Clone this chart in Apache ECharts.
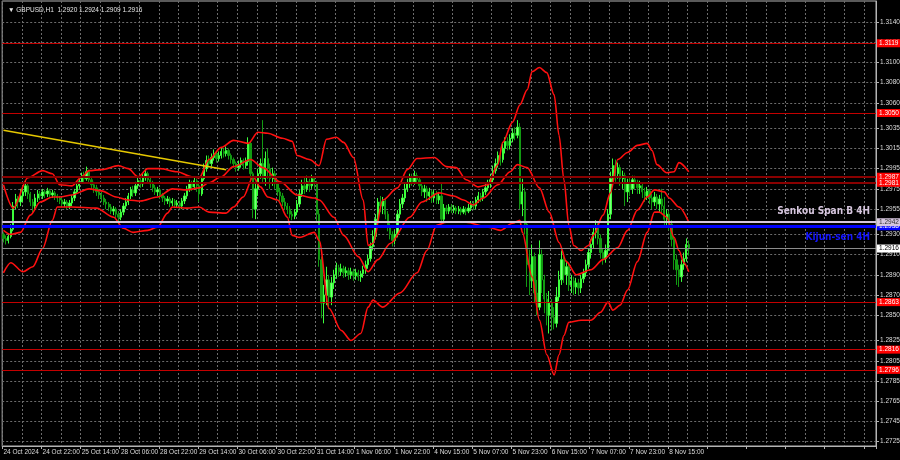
<!DOCTYPE html>
<html><head><meta charset="utf-8">
<script src="https://cdn.jsdelivr.net/npm/echarts@6/dist/echarts.min.js"></script>
<style>html,body{margin:0;padding:0;background:#000;}#c{width:900px;height:460px;}</style>
</head><body><div id="c"></div>
<script>
// ---------- data (prices stored as points above BASE, 1 point = 0.0001) ----------
const BASE = 1.2, PT = 0.0001;
const symbol = 'GBPUSD,H1';
const timeLabels = ['24 Oct 2024','24 Oct 22:00','25 Oct 14:00','28 Oct 06:00','28 Oct 22:00','29 Oct 14:00','30 Oct 06:00','30 Oct 22:00','31 Oct 14:00','1 Nov 06:00','1 Nov 22:00','4 Nov 15:00','5 Nov 07:00','5 Nov 23:00','6 Nov 15:00','7 Nov 07:00','7 Nov 23:00','8 Nov 15:00'];
const priceTicks = [1.2725,1.2745,1.2765,1.2785,1.2805,1.2825,1.2850,1.2870,1.2890,1.2910,1.2930,1.2955,1.2975,1.2995,1.3015,1.3035,1.3060,1.3080,1.3100,1.3120,1.3140];
const yMin = 1.27207, yMax = 1.31608;
const slots = 357;
// hourly candles [open, close, low, high]
const candles = [
[930,926,922,932],[926,924,920,929],[924,928,921,931],[928,935,926,940],[935,958,933,962],[958,965,955,970],[965,962,956,968],[962,968,958,975],[968,972,962,978],[972,978,968,983],
[978,970,965,980],[970,962,958,972],[962,958,952,965],[958,966,955,970],[966,970,962,974],[970,968,964,973],[968,972,965,975],[972,970,966,974],[970,973,967,976],[973,969,966,975],
[969,971,966,974],[971,968,964,973],[968,966,962,970],[966,964,960,968],[964,960,957,966],[960,962,957,965],[962,958,955,964],[958,961,955,964],[961,966,958,969],[966,972,963,975],
[972,978,970,981],[978,982,975,986],[982,988,980,991],[988,985,980,992],[985,992,983,997],[992,984,980,994],[984,979,975,987],[979,976,971,982],[976,972,968,979],[972,969,965,975],
[969,966,962,972],[966,962,959,969],[962,960,955,965],[960,957,953,962],[957,953,950,960],[953,955,949,958],[955,950,946,957],[950,947,942,953],[947,952,944,955],[952,958,949,961],
[958,962,955,966],[962,968,959,971],[968,974,965,977],[974,971,967,978],[971,978,968,982],[978,983,975,987],[983,980,976,986],[980,986,977,990],[986,990,983,995],[990,984,980,992],
[984,980,976,987],[980,976,972,983],[976,972,969,979],[972,974,968,977],[974,969,965,976],[969,966,962,971],[966,963,959,968],[963,965,960,968],[965,961,957,967],[961,963,958,966],
[963,959,956,965],[959,961,957,964],[961,958,955,963],[958,963,955,966],[963,968,960,971],[968,975,965,978],[975,980,972,984],[980,977,973,983],[977,983,974,986],[983,978,972,985],
[978,970,962,982],[970,985,968,988],[985,995,983,1000],[995,1003,992,1008],[1003,1000,996,1008],[1000,1006,997,1010],[1006,1010,1003,1014],[1010,1005,1001,1012],[1005,1008,1002,1012],[1008,1012,1005,1016],
[1012,1010,1006,1015],[1010,1013,1007,1017],[1013,1008,1004,1015],[1008,1004,1000,1010],[1004,1000,996,1006],[1000,996,992,1002],[996,999,993,1003],[999,1003,996,1006],[1003,998,994,1005],[998,1002,995,1006],
[1002,1020,998,1026],[1020,990,980,1022],[990,955,946,992],[955,975,945,982],[975,990,968,995],[990,1000,985,1005],[1000,985,980,1043],[985,1005,978,1012],[1005,995,985,1015],[995,985,975,1000],
[985,990,978,996],[990,980,975,993],[980,972,968,984],[972,968,963,976],[968,962,958,971],[962,958,954,966],[958,955,950,961],[955,950,946,958],[950,948,944,953],[948,952,945,955],
[952,960,949,964],[960,970,957,974],[970,978,967,984],[978,975,970,986],[975,982,972,988],[982,978,972,985],[978,985,975,989],[985,980,975,987],[980,950,943,983],[950,905,898,955],
[905,862,847,908],[862,870,842,880],[870,885,860,898],[885,868,856,890],[868,882,860,888],[882,890,876,895],[890,897,886,902],[897,893,888,900],[893,896,889,901],[896,892,887,899],
[892,894,888,898],[894,890,885,897],[890,893,886,897],[893,889,884,896],[889,892,885,896],[892,888,884,895],[888,891,883,894],[891,895,887,899],[895,900,891,904],[900,906,896,910],
[906,918,903,922],[918,928,914,934],[928,945,925,950],[945,962,940,966],[962,958,952,968],[958,963,950,967],[963,950,945,966],[950,938,933,953],[938,930,925,941],[930,924,918,933],
[924,930,920,934],[930,950,927,954],[950,960,946,965],[960,966,956,970],[966,975,962,980],[975,980,972,985],[980,986,976,990],[986,982,978,990],[982,988,979,993],[988,984,980,991],
[984,978,974,987],[978,972,968,981],[972,975,966,979],[975,968,962,978],[968,972,964,976],[972,966,961,974],[966,970,962,974],[970,964,960,973],[964,968,960,972],[968,945,940,981],
[945,956,942,960],[956,953,950,959],[953,957,950,960],[957,954,951,960],[954,956,951,959],[956,953,950,958],[953,955,950,958],[955,952,949,957],[952,955,950,958],[955,953,949,957],
[953,956,951,960],[956,960,953,963],[960,958,954,963],[958,964,955,967],[964,968,961,972],[968,966,962,971],[966,972,963,975],[972,976,969,980],[976,980,973,984],[980,984,976,990],
[984,993,981,998],[993,1000,990,1005],[1000,1008,996,1012],[1008,1004,998,1012],[1004,1015,1001,1020],[1015,1022,1010,1026],[1022,1018,1013,1026],[1018,1025,1014,1029],[1025,1030,1021,1035],[1030,1028,1023,1036],
[1028,1036,1025,1043],[1036,960,955,1040],[960,972,948,985],[972,940,930,976],[940,900,878,943],[900,884,870,915],[884,908,877,920],[908,872,862,912],[872,858,850,885],[858,910,855,924],
[910,885,872,915],[885,866,852,890],[866,850,840,872],[850,862,832,874],[862,848,835,866],[848,842,836,858],[842,868,838,878],[868,885,864,894],[885,905,880,914],[905,890,882,910],
[890,898,880,904],[898,880,874,901],[880,884,872,890],[884,878,870,888],[878,882,871,887],[882,877,870,886],[877,886,872,890],[886,892,882,896],[892,900,888,905],[900,912,896,916],
[912,920,906,925],[920,932,916,937],[932,938,926,944],[938,926,920,941],[926,912,906,930],[912,906,900,916],[906,914,902,920],[914,950,910,955],[950,985,945,992],[985,998,980,1005],
[998,990,982,1004],[990,996,985,1001],[996,985,978,999],[985,988,975,993],[988,972,958,991],[972,980,962,985],[980,975,968,986],[975,984,970,988],[984,980,975,988],[980,976,970,984],
[976,978,970,983],[978,972,966,981],[972,968,962,976],[968,973,964,977],[973,966,960,975],[966,962,955,970],[962,967,958,972],[967,960,955,970],[960,965,952,969],[965,958,950,975],
[958,945,938,967],[945,950,938,955],[950,940,934,953],[940,925,918,944],[925,905,895,928],[905,895,880,910],[895,888,878,900],[888,900,883,905],[900,906,895,912],[906,920,903,926],
[920,916,909,924]
];
// Bollinger bands: [bar index, points]
const bbUpper = [[0,979],[4,956],[10,986],[16,993],[20,990],[23,979],[28,978],[32,987],[35,993],[40,994],[47,998],[51,995],[55,987],[59,995],[64,995],[71,992],[77,987],[80,986],[84,1004],[89,1016],[94,1023],[100,1020],[104,1031],[108,1030],[114,1025],[118,1022],[120,1008],[125,1004],[129,998],[132,1024],[136,1026],[139,1021],[143,1006],[147,964],[149,919],[151,921],[155,964],[161,976],[165,994],[169,1005],[176,1006],[181,997],[185,996],[189,984],[194,977],[198,979],[202,999],[204,1021],[208,1041],[211,1058],[214,1073],[216,1091],[219,1095],[222,1090],[225,1068],[227,1028],[229,984],[231,939],[233,919],[236,914],[239,919],[241,929],[245,949],[248,971],[251,1004],[255,1011],[259,1018],[263,1020],[265,1013],[267,999],[271,991],[274,992],[276,1001],[280,992]];
const bbMiddle = [[0,934],[3,930],[7,932],[11,949],[15,962],[20,967],[23,967],[28,969],[35,975],[40,973],[46,967],[51,964],[56,963],[63,967],[69,975],[75,974],[80,976],[84,981],[89,987],[94,997],[101,1004],[106,996],[113,982],[120,969],[127,966],[129,964],[135,947],[139,929],[145,908],[149,893],[153,905],[158,921],[166,947],[171,962],[178,971],[184,968],[188,964],[192,959],[196,966],[202,979],[207,992],[210,999],[214,996],[219,976],[223,952],[227,922],[230,903],[234,890],[240,895],[245,905],[251,917],[255,934],[259,954],[263,967],[266,974],[270,972],[272,966],[276,957],[280,942]];
const bbLower = [[0,892],[3,902],[8,893],[12,898],[16,916],[20,944],[22,957],[28,957],[38,956],[45,947],[49,936],[53,932],[59,934],[63,937],[67,951],[69,957],[75,956],[80,957],[84,952],[91,951],[94,957],[98,967],[102,987],[105,977],[108,967],[112,964],[116,947],[118,929],[121,927],[127,932],[129,924],[133,857],[138,835],[142,825],[146,832],[149,858],[151,865],[155,858],[162,872],[169,892],[173,914],[177,939],[181,942],[189,942],[198,937],[203,934],[208,941],[211,944],[212,932],[216,888],[219,845],[222,811],[225,791],[227,811],[229,830],[231,843],[236,845],[240,845],[244,853],[247,863],[249,855],[252,860],[255,875],[259,903],[263,932],[266,952],[268,952],[271,947],[274,927],[276,914],[278,902],[280,893]];
const trendLine = [[0,1033],[91,994]];
// horizontal levels
const redLevels = [1.3119, 1.3050, 1.2863, 1.2816, 1.2796];
const darkRedLevels = [1.2987, 1.2981];
const senkouB = 1.2942, kijun = 1.2938, bid = 1.2916;
const senkouText = 'Senkou Span B 4H', kijunText = 'Kijun-sen 4H';

// ---------- build ----------
const px = v => +(BASE + v * PT).toFixed(5);
const f4 = v => v.toFixed(4);
const cats = Array.from({length: slots}, (_, i) => String(i));
const last = candles[candles.length - 1];
const lbl = { fontSize: 6.5, fontFamily: 'Liberation Sans', padding: [1, 2, 0, 2], position: 'end', distance: 1 };
const hidden = { color: 'rgba(0,0,0,0)', width: 1, type: 'solid' };
const nameFont = "'Liberation Sans Narrow', 'DejaVu Sans Condensed', 'Liberation Sans', sans-serif";

const levelLines = [];
redLevels.forEach(v => levelLines.push({ yAxis: v, lineStyle: { color: '#c40000', width: 1, type: 'solid' },
  label: Object.assign({}, lbl, { formatter: f4(v), backgroundColor: '#ff0000', color: '#ffffff' }) }));
darkRedLevels.forEach(v => levelLines.push({ yAxis: v, lineStyle: { color: '#8a0000', width: 2, type: 'solid' },
  label: Object.assign({}, lbl, { formatter: f4(v), backgroundColor: '#ff0000', color: '#ffffff' }) }));
levelLines.push({ yAxis: bid, lineStyle: { color: '#8c8c8c', width: 1, type: 'solid' },
  label: Object.assign({}, lbl, { formatter: f4(bid), backgroundColor: '#ffffff', color: '#000000' }) });
levelLines.push({ yAxis: kijun, lineStyle: { color: '#0000ff', width: 3, type: 'solid' },
  label: Object.assign({}, lbl, { formatter: f4(kijun), backgroundColor: '#0000ff', color: '#ffffff' }) });
levelLines.push({ yAxis: kijun, lineStyle: hidden,
  label: { show: true, position: 'insideEndBottom', distance: 6, formatter: kijunText, color: '#1414ff', fontSize: 10, fontWeight: 'bold', fontFamily: nameFont } });
levelLines.push({ yAxis: senkouB, lineStyle: { color: '#d6c6de', width: 2.2, type: 'solid' },
  label: Object.assign({}, lbl, { formatter: f4(senkouB), backgroundColor: '#d6c6de', color: '#333333' }) });
levelLines.push({ yAxis: senkouB, lineStyle: hidden,
  label: { show: true, position: 'insideEndTop', distance: 6, formatter: senkouText, color: '#d6c6de', fontSize: 10, fontWeight: 'bold', fontFamily: nameFont } });

const bandSeries = (arr) => ({
  type: 'line', data: arr.map(p => [p[0], px(p[1])]), symbol: 'none', smooth: 0.3, smoothMonotone: 'x',
  lineStyle: { color: '#ff1010', width: 1.6 }, z: 3, silent: true
});

const option = {
  backgroundColor: '#000000',
  animation: false,
  title: {
    text: '\u25BC ' + symbol + '  ' + [last[0], last[3], last[2], last[1]].map(v => f4(px(v))).join(' '),
    left: 3, top: 2,
    textStyle: { color: '#e6e6e6', fontSize: 6.5, fontWeight: 'normal', fontFamily: 'Liberation Sans' }
  },
  grid: { left: 2.2, right: 24, top: 1, bottom: 14, show: true, borderColor: '#b4b4b4', borderWidth: 1,
          containLabel: false, outerBoundsMode: 'none' },
  xAxis: {
    type: 'category', data: cats, boundaryGap: true,
    axisLine: { show: true, lineStyle: { color: '#b4b4b4' } },
    axisTick: { show: true, interval: 15, length: 3, lineStyle: { color: '#b4b4b4' } },
    axisLabel: { interval: 15, align: 'left', margin: 3, color: '#dcdcdc', fontSize: 6.5, fontFamily: 'Liberation Sans',
      formatter: (v, idx) => timeLabels[idx / 16] || '' },
    splitLine: { show: true, interval: 7, lineStyle: { color: '#6c6c6c', type: [2, 2], width: 1 } }
  },
  yAxis: {
    type: 'value', position: 'right', min: yMin, max: yMax,
    axisLine: { show: true, lineStyle: { color: '#b4b4b4' } },
    axisTick: { show: true, length: 3, customValues: priceTicks, lineStyle: { color: '#b4b4b4' } },
    axisLabel: { customValues: priceTicks, color: '#dcdcdc', fontSize: 6.5, margin: 4, fontFamily: 'Liberation Sans',
      formatter: v => v.toFixed(4) },
    splitLine: { show: true, lineStyle: { color: '#6c6c6c', type: [2, 2], width: 1 } }
  },
  series: [
    {
      type: 'candlestick', data: candles.map(c => c.map(px)), barWidth: 1.8, z: 2, silent: true,
      itemStyle: { color: '#7dff7d', color0: '#129a12', borderColor: '#3cff3c', borderColor0: '#129a12', borderColorDoji: '#3cff3c', borderWidth: 1 }
    },
    bandSeries(bbUpper), bandSeries(bbMiddle), bandSeries(bbLower),
    {
      type: 'line', data: trendLine.map(p => [p[0], px(p[1])]), symbol: 'none', z: 4, silent: true,
      lineStyle: { color: '#e6c800', width: 1.5 }
    },
    {
      type: 'line', data: [], z: 10, silent: true,
      markLine: { symbol: ['none', 'none'], silent: true, animation: false, precision: 5, data: levelLines }
    }
  ]
};
const chart = echarts.init(document.getElementById('c'), null, { renderer: 'canvas' });
chart.setOption(option);
</script>
</body></html>
